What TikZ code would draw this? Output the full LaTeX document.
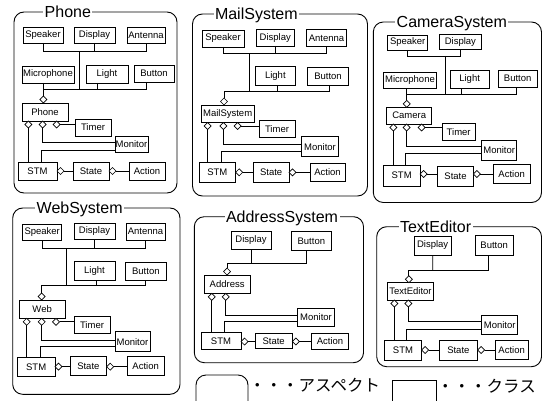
\documentclass[tikz,border=0pt]{standalone}
\usepackage{fontspec}
\setmainfont{Liberation Sans}
\newfontfamily\jpfont{Noto Sans CJK JP}
\usetikzlibrary{shapes.geometric}
\tikzset{
  cls/.style={draw, line width=0.7pt, inner sep=0pt, outer sep=0pt, font=\fontsize{9.5}{10}\selectfont},
  agg/.style={diamond, draw, line width=0.7pt, fill=white, inner sep=0pt, outer sep=0pt,
              minimum width=7pt, minimum height=7pt},
  wire/.style={line width=0.7pt},
  frame/.style={line width=0.9pt, rounded corners=10pt},
  ttl/.style={anchor=base west, fill=white, inner xsep=1.5pt, inner ysep=0pt, font=\fontsize{16}{18}\selectfont},
  jp/.style={anchor=west, inner sep=0pt, font=\jpfont\fontsize{16.5}{18}\selectfont},
}
% class box from its corners: name, x1, y1, x2, y2, label
\newcommand{\cbox}[6]{\node[cls, minimum width={#4-#2}, minimum height={#5-#3}] (#1) at ({(#2+#4)/2},{(#3+#5)/2}) {#6};}

\begin{document}
\begin{tikzpicture}[x=1pt,y=-1pt]
\useasboundingbox (0,0) rectangle (543,401);

% ---------------- Phone ----------------
\draw[frame] (14,12) rectangle (177,193);
\node[ttl] (aT) at (43,17.8) {Phone};
\cbox{aSpk}{23}{27}{63}{43}{Speaker}
\cbox{aDsp}{74}{27}{115}{43}{Display}
\cbox{aAnt}{127}{27}{165}{43}{Antenna}
\cbox{aMic}{22}{66}{74}{83}{Microphone}
\cbox{aLig}{86}{65}{128}{83}{Light}
\cbox{aBtn}{134}{65}{174}{82}{Button}
\cbox{aCore}{22}{103}{68}{121}{Phone}
\cbox{aTim}{75}{119}{111}{136}{Timer}
\cbox{aMon}{115}{136}{148}{152}{Monitor}
\cbox{aStm}{18}{162}{57}{180}{STM}
\cbox{aSta}{73}{162}{109}{180}{State}
\cbox{aAct}{129}{162}{165}{180}{Action}
\coordinate (aU) at (79,51);
\coordinate (aL) at (79,89);
\coordinate (aLl) at (43.3,89);
\coordinate (aLm) at (97.3,89);
\coordinate (aLr) at (146.7,89);
\coordinate (aM1) at (115,142.7);
\coordinate (aM2) at (115,150);
\coordinate (aS1) at (41,162);
\node[agg] (aD0) at (43.3,99.5) {};
\node[agg] (aD1) at (28.3,124.5) {};
\node[agg] (aD2) at (42.7,124.5) {};
\node[agg] (aD3) at (56.7,124.5) {};
\node[agg] (aD4) at (60.5,171) {};
\node[agg] (aD5) at (112.5,171) {};
\draw[wire] (aSpk.south) |- (aAnt.south |- aU) -- (aAnt.south);
\draw[wire] (aDsp.south) -- (aDsp.south |- aU);
\draw[wire] (aU) -- (aL);
\draw[wire] (aD0.north) -- (aLl) -- (aLr) -- (aLr |- aBtn.south);
\draw[wire] (aMic.south -| aLl) -- (aLl);
\draw[wire] (aLig.south -| aLm) -- (aLm);
\draw[wire] (aD1.south) -- (aD1.south |- aStm.north);
\draw[wire] (aD2.south) |- (aM1);
\draw[wire] (aS1) |- (aM2);
\draw[wire] (aD3.east) -- (aD3.east -| aTim.west);
\draw[wire] (aD4.east) -- (aD4.east -| aSta.west);
\draw[wire] (aD5.east) -- (aD5.east -| aAct.west);

% ---------------- MailSystem ----------------
\draw[frame] (192.5,14) rectangle (367.5,196);
\node[ttl] (bT) at (213.3,19.8) {MailSystem};
\cbox{bSpk}{202}{30}{244}{47}{Speaker}
\cbox{bDsp}{256}{29.5}{294.5}{46}{Display}
\cbox{bAnt}{306.5}{29.5}{346.5}{46.5}{Antenna}
\cbox{bLig}{255.7}{66.7}{295}{85}{Light}
\cbox{bBtn}{307.7}{67.3}{348.3}{85}{Button}
\cbox{bCore}{201}{105}{254.3}{122.5}{MailSystem}
\cbox{bTim}{259}{120.7}{295}{137.3}{Timer}
\cbox{bMon}{301.7}{136.7}{338.3}{156.7}{Monitor}
\cbox{bStm}{199}{162.7}{235.7}{182.7}{STM}
\cbox{bSta}{253.3}{162.7}{289}{182.7}{State}
\cbox{bAct}{310}{163.3}{345}{181.7}{Action}
\coordinate (bU) at (249,53.3);
\coordinate (bL) at (249,91.7);
\coordinate (bLl) at (224,91.7);
\coordinate (bLm) at (277.7,91.7);
\coordinate (bLr) at (329,91.7);
\coordinate (bM1) at (301.7,144);
\coordinate (bM2) at (301.7,151.7);
\coordinate (bS1) at (221.7,162.7);
\node[agg] (bD0) at (224,101.5) {};
\node[agg] (bD1) at (207.7,126) {};
\node[agg] (bD2) at (223.3,126) {};
\node[agg] (bD3) at (237.7,126) {};
\node[agg] (bD4) at (239.2,172.3) {};
\node[agg] (bD5) at (292.5,172.3) {};
\draw[wire] (bSpk.south) |- (bAnt.south |- bU) -- (bAnt.south);
\draw[wire] (bDsp.south) -- (bDsp.south |- bU);
\draw[wire] (bU) -- (bL);
\draw[wire] (bD0.north) -- (bLl) -- (bLr) -- (bLr |- bBtn.south);
\draw[wire] (bLig.south -| bLm) -- (bLm);
\draw[wire] (bD1.south) -- (bD1.south |- bStm.north);
\draw[wire] (bD2.south) |- (bM1);
\draw[wire] (bS1) |- (bM2);
\draw[wire] (bD3.east) -- (bD3.east -| bTim.west);
\draw[wire] (bD4.east) -- (bD4.east -| bSta.west);
\draw[wire] (bD5.east) -- (bD5.east -| bAct.west);

% ---------------- CameraSystem ----------------
\draw[frame] (373.3,22) rectangle (541.5,202.5);
\node[ttl] (cT) at (395,27.8) {CameraSystem};
\cbox{cSpk}{387.7}{35}{427.7}{50}{Speaker}
\cbox{cDsp}{439}{34.3}{481.7}{49.3}{Display}
\cbox{cMic}{383.3}{72.7}{436.7}{88.3}{Microphone}
\cbox{cLig}{450}{70}{489.3}{88.3}{Light}
\cbox{cBtn}{498.3}{70}{537}{87.3}{Button}
\cbox{cCore}{386.7}{107.3}{431.7}{124}{Camera}
\cbox{cTim}{442.3}{123.3}{475}{140}{Timer}
\cbox{cMon}{481.7}{140}{516.7}{160.7}{Monitor}
\cbox{cStm}{383.3}{165}{420}{186}{STM}
\cbox{cSta}{437.7}{166}{473.3}{186}{State}
\cbox{cAct}{493.3}{164}{530}{183.3}{Action}
\coordinate (cU) at (445,56);
\coordinate (cL) at (445,94);
\coordinate (cLl) at (406.7,94);
\coordinate (cLm) at (461.7,94);
\coordinate (cLr) at (516.7,94);
\coordinate (cM1) at (481.7,146.7);
\coordinate (cM2) at (481.7,153.3);
\coordinate (cS1) at (405.7,165);
\node[agg] (cD0) at (406.7,103.8) {};
\node[agg] (cD1) at (393.3,127.5) {};
\node[agg] (cD2) at (406.7,127.5) {};
\node[agg] (cD3) at (421.7,127.5) {};
\node[agg] (cD4) at (423.5,174) {};
\node[agg] (cD5) at (476.8,174) {};
\draw[wire] (cSpk.south) |- (cDsp.south |- cU) -- (cDsp.south);
\draw[wire] (cU) -- (cL);
\draw[wire] (cD0.north) -- (cLl) -- (cLr) -- (cLr |- cBtn.south);
\draw[wire] (cMic.south -| cLl) -- (cLl);
\draw[wire] (cLig.south -| cLm) -- (cLm);
\draw[wire] (cD1.south) -- (cD1.south |- cStm.north);
\draw[wire] (cD2.south) |- (cM1);
\draw[wire] (cS1) |- (cM2);
\draw[wire] (cD3.east) -- (cD3.east -| cTim.west);
\draw[wire] (cD4.east) -- (cD4.east -| cSta.west);
\draw[wire] (cD5.east) -- (cD5.east -| cAct.west);

% ---------------- WebSystem ----------------
\draw[frame] (12.7,208) rectangle (180,394.3);
\node[ttl] (dT) at (35,213.8) {WebSystem};
\cbox{dSpk}{22.7}{224.3}{61.7}{240}{Speaker}
\cbox{dDsp}{74}{223.3}{115}{239}{Display}
\cbox{dAnt}{126}{223.3}{165}{240}{Antenna}
\cbox{dLig}{74}{261.7}{115}{280}{Light}
\cbox{dBtn}{125}{262.3}{166.7}{280}{Button}
\cbox{dCore}{19.3}{300}{65}{318.3}{Web}
\cbox{dTim}{74}{316.7}{110}{333.3}{Timer}
\cbox{dMon}{115}{331.7}{150}{351.7}{Monitor}
\cbox{dStm}{17.3}{357.7}{55}{376.7}{STM}
\cbox{dSta}{70}{356.7}{106.7}{375}{State}
\cbox{dAct}{127.3}{356.7}{164}{375}{Action}
\coordinate (dU) at (66.7,248.3);
\coordinate (dL) at (66.7,285.7);
\coordinate (dLl) at (41.7,285.7);
\coordinate (dLm) at (96,285.7);
\coordinate (dLr) at (145.7,285.7);
\coordinate (dM1) at (115,340);
\coordinate (dM2) at (115,346.7);
\coordinate (dS1) at (40.7,357.7);
\node[agg] (dD0) at (41.7,296.5) {};
\node[agg] (dD1) at (26.7,321.8) {};
\node[agg] (dD2) at (41.7,321.8) {};
\node[agg] (dD3) at (56,321.8) {};
\node[agg] (dD4) at (58.5,366.7) {};
\node[agg] (dD5) at (110.2,366.7) {};
\draw[wire] (dSpk.south) |- (dAnt.south |- dU) -- (dAnt.south);
\draw[wire] (dDsp.south) -- (dDsp.south |- dU);
\draw[wire] (dU) -- (dL);
\draw[wire] (dD0.north) -- (dLl) -- (dLr) -- (dLr |- dBtn.south);
\draw[wire] (dLig.south -| dLm) -- (dLm);
\draw[wire] (dD1.south) -- (dD1.south |- dStm.north);
\draw[wire] (dD2.south) |- (dM1);
\draw[wire] (dS1) |- (dM2);
\draw[wire] (dD3.east) -- (dD3.east -| dTim.west);
\draw[wire] (dD4.east) -- (dD4.east -| dSta.west);
\draw[wire] (dD5.east) -- (dD5.east -| dAct.west);

% ---------------- AddressSystem ----------------
\draw[frame] (194.3,216.7) rectangle (363.5,362.7);
\node[ttl] (eT) at (224.3,222.5) {AddressSystem};
\cbox{eDsp}{231}{231.7}{271}{249.3}{Display}
\cbox{eBtn}{291}{231.7}{331.7}{250}{Button}
\cbox{eCore}{204.3}{275}{250}{293.3}{Address}
\cbox{eMon}{297.7}{308.3}{334.3}{326}{Monitor}
\cbox{eStm}{201}{332.7}{241}{349.3}{STM}
\cbox{eSta}{255}{333.3}{292.3}{348.3}{State}
\cbox{eAct}{311.7}{333.3}{348.3}{349}{Action}
\coordinate (eL) at (251,263.3);
\coordinate (eLl) at (227,263.3);
\coordinate (eLr) at (306,263.3);
\coordinate (eM1) at (297.7,315);
\coordinate (eM2) at (297.7,321.7);
\coordinate (eS1) at (224.3,332.7);
\node[agg] (eD0) at (227,271.5) {};
\node[agg] (eD1) at (211.7,296.8) {};
\node[agg] (eD2) at (225.7,296.8) {};
\node[agg] (eD4) at (244.5,341.5) {};
\node[agg] (eD5) at (295.8,341.5) {};
\draw[wire] (eDsp.south) -- (eL);
\draw[wire] (eD0.north) -- (eLl) -- (eLr) -- (eLr |- eBtn.south);
\draw[wire] (eD1.south) -- (eD1.south |- eStm.north);
\draw[wire] (eD2.south) |- (eM1);
\draw[wire] (eS1) |- (eM2);
\draw[wire] (eD4.east) -- (eD4.east -| eSta.west);
\draw[wire] (eD5.east) -- (eD5.east -| eAct.west);

% ---------------- TextEditor ----------------
\draw[frame] (376.7,226.7) rectangle (541.5,366.7);
\node[ttl] (fT) at (398.3,232.5) {TextEditor};
\cbox{fDsp}{414.3}{236}{451}{255}{Display}
\cbox{fBtn}{475}{235}{513.3}{255}{Button}
\cbox{fCore}{387.7}{282.7}{433.3}{300}{TextEditor}
\cbox{fMon}{481.7}{315}{517.7}{334.3}{Monitor}
\cbox{fStm}{384.3}{340}{421.7}{360}{STM}
\cbox{fSta}{439}{340.7}{477.7}{360}{State}
\cbox{fAct}{495}{340}{528.3}{359.3}{Action}
\coordinate (fL) at (432.7,270);
\coordinate (fLl) at (408.8,270);
\coordinate (fLr) at (488.3,270);
\coordinate (fM1) at (481.7,321.7);
\coordinate (fM2) at (481.7,329.3);
\coordinate (fS1) at (406.7,340);
\node[agg] (fD0) at (408.8,279.2) {};
\node[agg] (fD1) at (394.3,303.5) {};
\node[agg] (fD2) at (408.3,303.5) {};
\node[agg] (fD4) at (425.2,350) {};
\node[agg] (fD5) at (481.2,350) {};
\draw[wire] (fDsp.south) -- (fL);
\draw[wire] (fD0.north) -- (fLl) -- (fLr) -- (fLr |- fBtn.south);
\draw[wire] (fD1.south) -- (fD1.south |- fStm.north);
\draw[wire] (fD2.south) |- (fM1);
\draw[wire] (fS1) |- (fM2);
\draw[wire] (fD4.east) -- (fD4.east -| fSta.west);
\draw[wire] (fD5.east) -- (fD5.east -| fAct.west);

% ---------------- legend ----------------
\draw[frame] (196,375) rectangle (248,412);
\node[jp] (lgA) at (249,385) {・・・アスペクト};
\draw[line width=0.9pt] (392.7,380) rectangle (436.7,412);
\node[jp] (lgC) at (437,386) {・・・クラス};
\end{tikzpicture}
\end{document}
